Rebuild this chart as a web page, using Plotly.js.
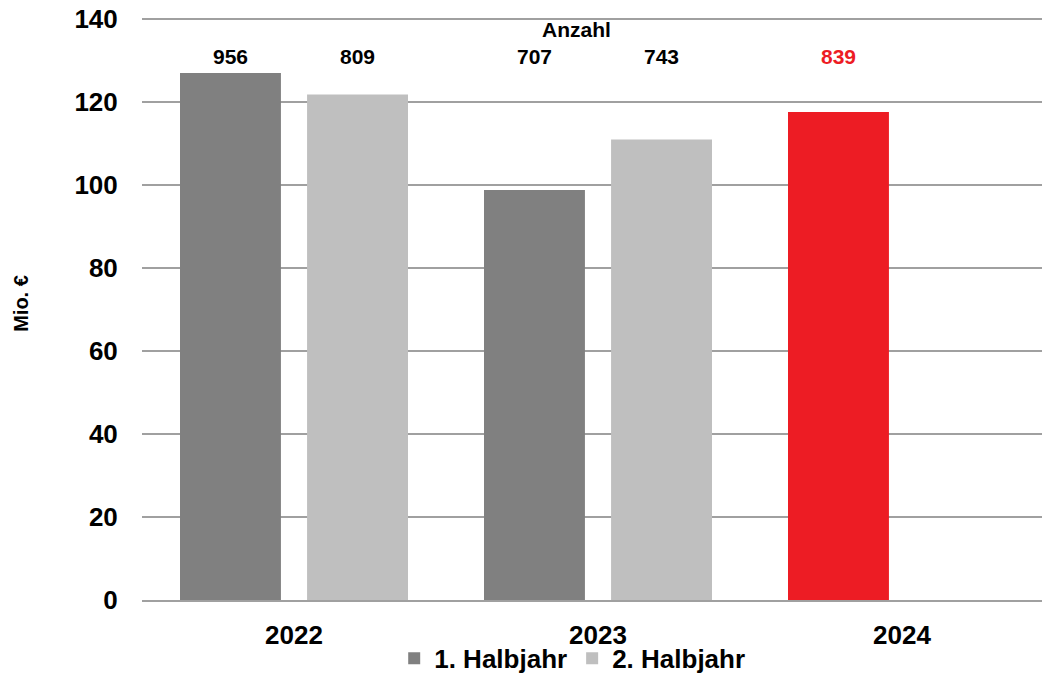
<!DOCTYPE html>
<html>
<head>
<meta charset="utf-8">
<script src="https://cdn.plot.ly/plotly-3.0.1.min.js"></script>
<style>html,body{margin:0;padding:0;background:#fff;}#chart{width:1042px;height:676px;}</style>
</head>
<body>
<div id="chart"></div>
<script>
// Data
const years = ['2022', '2023', '2024'];
const seriesNames = ['1. Halbjahr', '2. Halbjahr'];
const h1Values = [127.0, 98.8, 117.6];   // Mio. €
const h2Values = [121.8, 111.0, null];   // Mio. €
const h1Counts = [956, 707, 839];        // Anzahl
const h2Counts = [809, 743, null];       // Anzahl
const countsTitle = 'Anzahl';
const yTitle = 'Mio. €';
const yTicks = [0, 20, 40, 60, 80, 100, 120, 140];

// Styles
const FONT = 'Liberation Sans, Arial, sans-serif';
const GREY_DARK = '#808080';
const GREY_LIGHT = '#BFBFBF';
const RED = '#ED1C24';
const GRID = '#A0A0A0';
const BAR_W = 0.332, OFF1 = -0.375, OFF2 = 0.043;

const h1Colors = years.map((y, i) => i === years.length - 1 ? RED : GREY_DARK);

const traces = [
  {type: 'bar', name: seriesNames[0], x: years, y: h1Values,
   marker: {color: h1Colors, line: {width: 0}}, width: BAR_W, offset: OFF1, hoverinfo: 'y'},
  {type: 'bar', name: seriesNames[1], x: years, y: h2Values,
   marker: {color: GREY_LIGHT, line: {width: 0}}, width: BAR_W, offset: OFF2, hoverinfo: 'y'}
];

const annotations = [];
years.forEach((yr, i) => {
  if (h1Counts[i] != null) annotations.push({
    xref: 'x', yref: 'y', x: i + OFF1 + BAR_W / 2, y: 131, text: '<b>' + h1Counts[i] + '</b>',
    showarrow: false, font: {family: FONT, size: 21, color: h1Colors[i] === RED ? RED : '#000'}
  });
  if (h2Counts[i] != null) annotations.push({
    xref: 'x', yref: 'y', x: i + OFF2 + BAR_W / 2, y: 131, text: '<b>' + h2Counts[i] + '</b>',
    showarrow: false, font: {family: FONT, size: 21, color: '#000'}
  });
});
annotations.push({xref: 'x', yref: 'y', x: 0.928, y: 137.4, text: '<b>' + countsTitle + '</b>',
  showarrow: false, font: {family: FONT, size: 21, color: '#000'}});
annotations.push({xref: 'paper', yref: 'paper', x: (21 - 142) / 900, y: 0.508, text: '<b>' + yTitle + '</b>',
  textangle: -90, showarrow: false, xanchor: 'center', yanchor: 'middle',
  font: {family: FONT, size: 20, color: '#000'}});

const layout = {
  width: 1042, height: 676,
  margin: {l: 142, r: 0, t: 17, b: 76, autoexpand: false},
  paper_bgcolor: '#fff', plot_bgcolor: '#fff',
  barmode: 'overlay',
  font: {family: FONT, color: '#000'},
  showlegend: true,
  legend: {orientation: 'h', x: 0.478, xanchor: 'center', y: -0.1, yanchor: 'middle',
           bgcolor: 'rgba(0,0,0,0)',
           font: {family: FONT, size: 26, color: '#000', weight: 'bold'}, traceorder: 'normal',
           itemwidth: 30},
  xaxis: {type: 'category', range: [-0.5, -0.5 + 900 / 304], showgrid: false, zeroline: false,
          showline: true, linecolor: GRID, linewidth: 2,
          ticks: 'outside', ticklen: 11, tickcolor: 'rgba(0,0,0,0)',
          tickfont: {family: FONT, size: 26, color: '#000', weight: 'bold'}, fixedrange: true},
  yaxis: {range: [0, 140.5], tickvals: yTicks, showgrid: true, gridcolor: GRID, gridwidth: 2,
          zeroline: false, showline: false,
          ticks: 'outside', ticklen: 18, tickcolor: 'rgba(0,0,0,0)',
          tickfont: {family: FONT, size: 26, color: '#000', weight: 'bold'}, fixedrange: true},
  annotations: annotations
};

Plotly.newPlot('chart', traces, layout, {displayModeBar: false, staticPlot: true});
</script>
</body>
</html>
